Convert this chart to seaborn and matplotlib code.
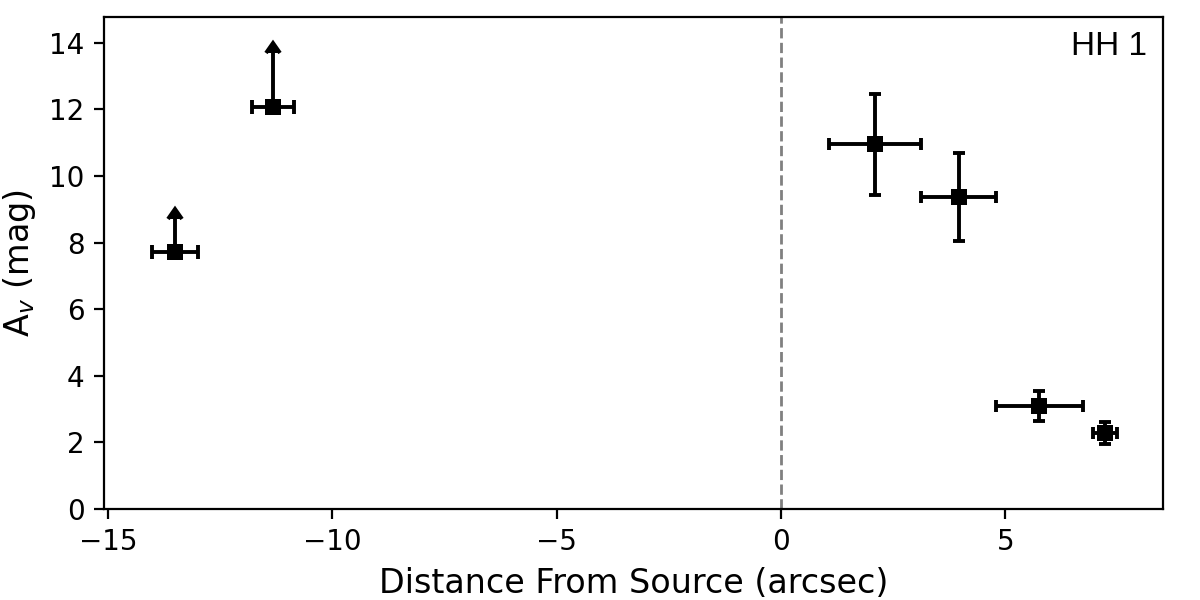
import numpy as np
import pandas as pd
import matplotlib
matplotlib.use("Agg")
import matplotlib.pyplot as plt
import seaborn as sns

# Extinction measurements along HH 1
distance = [-13.51, -11.32, 2.09, 3.96, 5.76, 7.22]
distance_err = [0.51, 0.47, 1.03, 0.84, 0.97, 0.26]
av = [7.72, 12.08, 10.96, 9.36, 3.09, 2.27]
av_err = [1.0, 1.63, 1.52, 1.32, 0.44, 0.33]
is_lower_limit = [True, True, False, False, False, False]

data = pd.DataFrame({'distance': distance, 'distance_err': distance_err,
                     'av': av, 'av_err': av_err, 'lolim': is_lower_limit})

sns.set_style('ticks', rc={'text.color': 'black', 'axes.labelcolor': 'black',
                           'xtick.color': 'black', 'ytick.color': 'black',
                           'axes.edgecolor': 'black'})
plt.rcParams['font.family'] = ['DejaVu Sans']

fig, ax = plt.subplots(figsize=(6, 3), dpi=200)
fig.subplots_adjust(left=0.0867, right=0.969, top=0.9717, bottom=0.152)

# lower limits get an upward arrow, the rest plain error bars
lim = data[data['lolim']]
det = data[~data['lolim']]
ax.errorbar(lim['distance'], lim['av'], xerr=lim['distance_err'], yerr=lim['av_err'],
            lolims=True, fmt='none', color='black', ecolor='black',
            elinewidth=1.4, capsize=2.4, capthick=1.4)
ax.errorbar(det['distance'], det['av'], xerr=det['distance_err'], yerr=det['av_err'],
            fmt='none', color='black', ecolor='black',
            elinewidth=1.4, capsize=2.2, capthick=1.4)
sns.scatterplot(data=data, x='distance', y='av', marker='s', color='black',
                s=34, edgecolor='black', linewidth=0, zorder=3, ax=ax)

ax.axvline(0, color='grey', linestyle='--', linewidth=1)

ax.set_xlim(-15.09, 8.51)
ax.set_ylim(0, 14.78)
ax.set_xticks([-15, -10, -5, 0, 5])
ax.set_yticks(np.arange(0, 15, 2))
ax.set_xlabel('Distance From Source (arcsec)', fontsize=12)
ax.set_ylabel(r'A$_v$ (mag)', fontsize=12)
ax.tick_params(labelsize=10)
for s in ax.spines.values():
    s.set_visible(True)
    s.set_linewidth(0.8)

ax.text(0.985, 0.94, 'HH 1', transform=ax.transAxes, ha='right', va='center',
        fontsize=12, family='Liberation Sans')

plt.savefig('out.png')
